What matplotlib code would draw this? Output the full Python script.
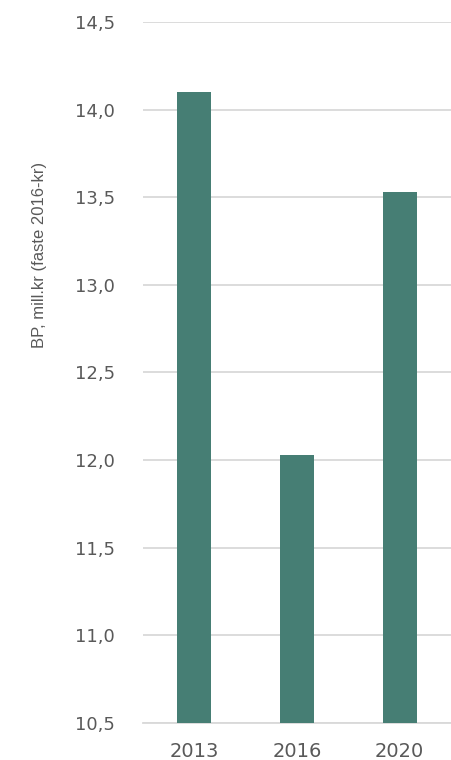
import matplotlib
matplotlib.use("Agg")
import matplotlib.pyplot as plt
from matplotlib.ticker import FuncFormatter, MultipleLocator

categories = ["2013", "2016", "2020"]
values = [14.10, 12.03, 13.53]
ylabel = "BP, mill.kr (faste 2016-kr)"

fig = plt.figure(figsize=(4.51, 7.60), dpi=100)
ax = fig.add_axes([0.317, 0.049, 0.683, 0.922])

x = range(len(categories))
ax.bar(x, values, width=0.33, color="#467e74", zorder=3)
ax.set_xlim(-0.5, 2.5)
ax.set_ylim(10.5, 14.5)
ax.yaxis.set_major_locator(MultipleLocator(0.5))
ax.yaxis.set_major_formatter(FuncFormatter(lambda v, p: f"{v:.1f}".replace(".", ",")))
ax.set_xticks(list(x))
ax.set_xticklabels(categories)

ax.grid(axis="y", color="#d9d9d9", linewidth=1.3, zorder=0)
for s in ["top", "right", "left"]:
    ax.spines[s].set_visible(False)
ax.spines["bottom"].set_color("#d9d9d9")
ax.spines["bottom"].set_linewidth(1.3)
ax.tick_params(axis="both", length=0, labelcolor="#595959")
ax.tick_params(axis="y", pad=20, labelsize=13)
ax.tick_params(axis="x", pad=14, labelsize=14)
for lab in ax.get_yticklabels() + ax.get_xticklabels():
    lab.set_fontfamily(["DejaVu Sans"])

fig.text(40 / 451, 1 - 255 / 760, ylabel, rotation=90, ha="center", va="center",
         fontsize=12, color="#595959",
         family=["Liberation Sans Narrow", "Liberation Sans", "DejaVu Sans"])

fig.savefig("out.png", dpi=100)
